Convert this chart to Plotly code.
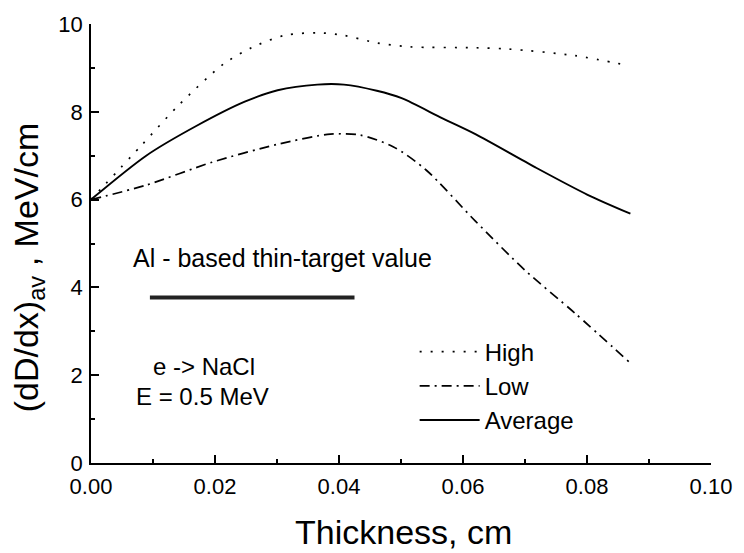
import plotly.graph_objects as go

# Data
avg_x = [0, 0.0089, 0.0169, 0.0248, 0.0301, 0.0365, 0.0408, 0.0461, 0.0501, 0.0567, 0.062, 0.0716, 0.0801, 0.087]
avg_y = [6.0, 7.0, 7.67, 8.23, 8.49, 8.62, 8.62, 8.48, 8.31, 7.85, 7.49, 6.74, 6.11, 5.68]

high_x = [0, 0.0083, 0.0142, 0.0214, 0.0259, 0.0312, 0.0365, 0.0408, 0.0461, 0.0514, 0.062, 0.0673, 0.078, 0.0868]
high_y = [6.0, 7.26, 8.16, 9.09, 9.46, 9.74, 9.8, 9.74, 9.57, 9.48, 9.46, 9.43, 9.28, 9.05]

low_x = [0, 0.0089, 0.0195, 0.0301, 0.0386, 0.0434, 0.0488, 0.054, 0.062, 0.07, 0.078, 0.0868]
low_y = [6.0, 6.33, 6.85, 7.26, 7.49, 7.47, 7.2, 6.68, 5.51, 4.39, 3.42, 2.3]

al_x = [0.0095, 0.0425]
al_y = [3.77, 3.77]

x_ticks = [0.00, 0.02, 0.04, 0.06, 0.08, 0.10]
x_ticklabels = ["0.00", "0.02", "0.04", "0.06", "0.08", "0.10"]
y_ticks = [0, 2, 4, 6, 8, 10]

FONT = "Liberation Sans, Arial, sans-serif"

fig = go.Figure()
fig.add_trace(go.Scatter(x=high_x, y=high_y, mode="lines", name="High",
                         line=dict(color="black", width=1.7, dash="2px,9px", shape="spline", smoothing=0.8),
                         legendgroup="a"))
fig.add_trace(go.Scatter(x=low_x, y=low_y, mode="lines", name="Low",
                         line=dict(color="black", width=1.7, dash="10px,5px,2px,5px", shape="spline", smoothing=0.8),
                         legendgroup="b"))
fig.add_trace(go.Scatter(x=avg_x, y=avg_y, mode="lines", name="Average",
                         line=dict(color="black", width=1.9, shape="spline", smoothing=0.8),
                         legendgroup="c"))
fig.add_trace(go.Scatter(x=al_x, y=al_y, mode="lines", showlegend=False,
                         line=dict(color="#222222", width=4)))

fig.add_annotation(x=0.0065, y=4.68, xref="x", yref="y", text="Al - based thin-target value",
                   showarrow=False, xanchor="left", yanchor="middle",
                   font=dict(family=FONT, size=25, color="black"))
fig.add_annotation(x=0.0183, y=2.2, xref="x", yref="y", text="e -> NaCl",
                   showarrow=False, xanchor="center", yanchor="middle",
                   font=dict(family=FONT, size=24, color="black"))
fig.add_annotation(x=0.018, y=1.52, xref="x", yref="y", text="E = 0.5 MeV",
                   showarrow=False, xanchor="center", yanchor="middle",
                   font=dict(family=FONT, size=24, color="black"))

# axis titles
fig.add_annotation(x=0.504, y=-0.157, xref="paper", yref="paper", text="Thickness, cm",
                   showarrow=False, xanchor="center", yanchor="middle",
                   font=dict(family=FONT, size=34, color="black"))
fig.add_annotation(x=-0.1005, y=0.445, xref="paper", yref="paper",
                   text="(dD/dx)<sub>av</sub> , MeV/cm", textangle=-90,
                   showarrow=False, xanchor="center", yanchor="middle",
                   font=dict(family=FONT, size=34, color="black"))

fig.update_layout(
    width=744, height=553,
    margin=dict(l=91, r=26, t=16, b=90),
    paper_bgcolor="white", plot_bgcolor="white",
    font=dict(family=FONT, color="black", size=22),
    legend=dict(x=0.522, y=0.304, xanchor="left", yanchor="top",
                bgcolor="rgba(0,0,0,0)", font=dict(size=24, family=FONT, color="black"),
                itemwidth=60, tracegroupgap=0),
    xaxis=dict(range=[0, 0.10], tickvals=x_ticks, ticktext=x_ticklabels,
               ticks="inside", ticklen=8, tickwidth=1.5, tickcolor="black",
               showline=True, linecolor="black", linewidth=1.8, mirror=False,
               showgrid=False, zeroline=False, ticklabelstandoff=3,
               minor=dict(ticks="inside", ticklen=4, tickwidth=1.5, tickcolor="black", dtick=0.01),
               tickfont=dict(size=22, family=FONT)),
    yaxis=dict(range=[0, 10], tickvals=y_ticks,
               ticks="inside", ticklen=8, tickwidth=1.5, tickcolor="black",
               showline=True, linecolor="black", linewidth=1.8, mirror=False,
               showgrid=False, zeroline=False, ticklabelstandoff=2,
               minor=dict(ticks="inside", ticklen=4, tickwidth=1.5, tickcolor="black", dtick=1),
               tickfont=dict(size=22, family=FONT)),
)

fig.write_html("out.html")
